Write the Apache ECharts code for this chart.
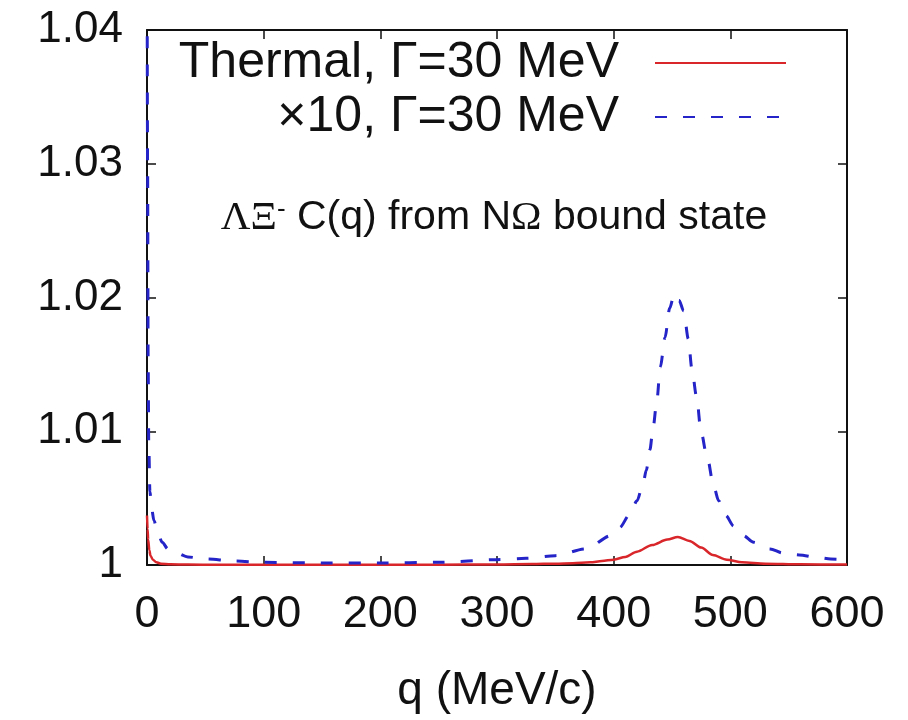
<!DOCTYPE html>
<html>
<head>
<meta charset="utf-8">
<script src="https://cdn.jsdelivr.net/npm/echarts@6/dist/echarts.min.js"></script>
<style>
  html, body { margin: 0; padding: 0; background: #fff; }
  #chart { width: 908px; height: 720px; }
</style>
</head>
<body>
<div id="chart"></div>
<script>
// Momentum q (MeV/c) and correlation C(q) for the thermal source
const qThermal = [0, 0.5, 1, 2, 3, 5, 8, 12, 20, 35, 60, 100, 150, 200, 250, 300, 330, 350, 365, 380, 390, 400, 410, 420, 433, 446, 455, 465, 475, 485, 497, 510, 530, 560, 600];
const cThermal = [1.0037, 1.0027, 1.0019, 1.0011, 1.0007, 1.0004, 1.0002, 1.0001, 1.00005, 1.00003, 1.00002, 1.00001, 1.00001, 1.00001, 1.00002, 1.00004, 1.00007, 1.0001, 1.00014, 1.0002, 1.0003, 1.0004, 1.0006, 1.001, 1.0015, 1.0019, 1.0021, 1.0018, 1.0013, 1.00075, 1.0004, 1.0002, 1.0001, 1.00005, 1.00003];

// Same quantity for the x10 source
const qTimes10 = [0, 0.5, 1, 1.5, 2.5, 4, 6, 9, 13, 18, 25, 35, 50, 75, 100, 150, 200, 250, 300, 325, 350, 376, 398, 405, 414, 420, 425, 428, 431, 434, 437, 440, 444, 448, 452, 456, 460, 464, 467, 471, 475, 480, 486, 490, 496, 503, 511, 520, 534, 545, 559, 575, 586, 600];
const cTimes10 = [1.05, 1.03, 1.015, 1.009, 1.0055, 1.0042, 1.0033, 1.0025, 1.0017, 1.0012, 1.0009, 1.0006, 1.00045, 1.0003, 1.0002, 1.00015, 1.00015, 1.0002, 1.0004, 1.0005, 1.0007, 1.0012, 1.0022, 1.0028, 1.0038, 1.0048, 1.006, 1.0071, 1.0086, 1.0104, 1.0123, 1.0148, 1.017, 1.0192, 1.0203, 1.0198, 1.019, 1.0169, 1.0147, 1.0126, 1.0099, 1.0081, 1.0058, 1.0048, 1.0037, 1.0029, 1.0022, 1.0017, 1.0012, 1.0009, 1.00075, 1.00055, 1.00045, 1.0004];

const xTickLabels = ['0', '100', '200', '300', '400', '500', '600'];
const yTickLabels = ['1', '1.01', '1.02', '1.03', '1.04'];

const nameThermal = 'Thermal, \u0393=30 MeV';
const nameTimes10 = '\u00d710, \u0393=30 MeV';

const FONT = 'Liberation Sans, Arial, Helvetica, sans-serif';
const SERIF = 'Liberation Serif, DejaVu Serif, serif';
const INK = '#111';
const RED = '#d8262b';
const BLUE = '#2424c8';

const pairs = (xs, ys) => xs.map((x, i) => [x, ys[i]]);

const chart = echarts.init(document.getElementById('chart'), null, { renderer: 'canvas' });

const frameLine = { show: true, onZero: false, lineStyle: { color: INK, width: 2 } };
const innerTick = { show: true, inside: true, length: 9, lineStyle: { color: INK, width: 1.5 } };

const legendBase = {
  right: 121, align: 'right', padding: 0,
  itemWidth: 131, itemHeight: 14, selectedMode: false,
  itemStyle: { opacity: 0 },
  textStyle: { fontSize: 50, color: INK, fontFamily: FONT, padding: [0, 31, 0, 0] }
};

chart.setOption({
  animation: false,
  backgroundColor: '#fff',
  textStyle: { fontFamily: FONT, color: INK },
  grid: { left: 147, right: 61, top: 30, bottom: 155, containLabel: false },
  xAxis: [
    {
      type: 'value', min: 0, max: 600, interval: 100, position: 'bottom',
      axisLine: frameLine, axisTick: innerTick, splitLine: { show: false },
      axisLabel: {
        fontSize: 45, color: INK, margin: 27, fontFamily: FONT,
        formatter: v => xTickLabels[Math.round(v / 100)]
      },
      name: 'q (MeV/c)', nameLocation: 'middle', nameGap: 103,
      nameTextStyle: { fontSize: 46, color: INK, fontFamily: FONT }
    },
    {
      type: 'value', min: 0, max: 600, interval: 100, position: 'top',
      axisLine: frameLine, axisTick: innerTick, splitLine: { show: false },
      axisLabel: { show: false }
    }
  ],
  yAxis: [
    {
      type: 'value', min: 1, max: 1.04, interval: 0.01, position: 'left',
      axisLine: frameLine, axisTick: innerTick, splitLine: { show: false },
      axisLabel: {
        fontSize: 44, color: INK, margin: 24, fontFamily: FONT,
        formatter: v => yTickLabels[Math.round((v - 1) * 100)]
      }
    },
    {
      type: 'value', min: 1, max: 1.04, interval: 0.01, position: 'right',
      axisLine: frameLine, axisTick: innerTick, splitLine: { show: false },
      axisLabel: { show: false }
    }
  ],
  legend: [
    Object.assign({}, legendBase, { data: [nameThermal], top: 38 }),
    Object.assign({}, legendBase, { data: [nameTimes10], top: 92 })
  ],
  graphic: [
    {
      type: 'text', x: 494, y: 218,
      style: {
        text: '{g|\u039b\u039e}{s|-}{t| C(q) from N}{g|\u03a9}{t| bound state}',
        align: 'center', verticalAlign: 'middle',
        rich: {
          g: { fontSize: 41, fontFamily: SERIF, fill: INK },
          s: { fontSize: 26, fontFamily: FONT, fill: INK, verticalAlign: 'top', padding: [0, 0, 16, 0] },
          t: { fontSize: 41, fontFamily: FONT, fill: INK }
        }
      }
    }
  ],
  series: [
    {
      name: nameThermal, type: 'line', xAxisIndex: 0, yAxisIndex: 0,
      data: pairs(qThermal, cThermal), showSymbol: false, symbol: 'none',
      smooth: 0.3, smoothMonotone: 'x', clip: true, z: 3,
      lineStyle: { color: RED, width: 2.5 }, itemStyle: { color: RED }
    },
    {
      name: nameTimes10, type: 'line', xAxisIndex: 0, yAxisIndex: 0,
      data: pairs(qTimes10, cTimes10), showSymbol: false, symbol: 'none',
      smooth: 0.3, smoothMonotone: 'x', clip: true, z: 4,
      lineStyle: { color: BLUE, width: 3, type: [12, 16] }, itemStyle: { color: BLUE }
    }
  ]
});
</script>
</body>
</html>
